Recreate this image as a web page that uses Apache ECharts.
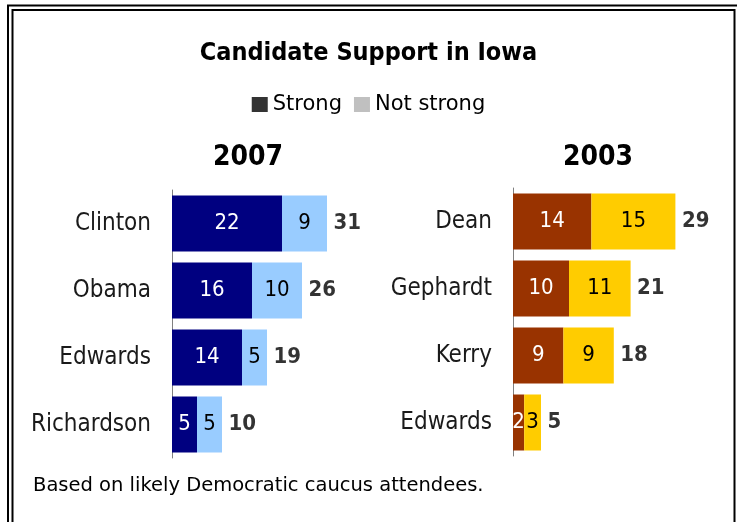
<!DOCTYPE html>
<html>
<head>
<meta charset="utf-8">
<script src="https://cdn.jsdelivr.net/npm/echarts@6/dist/echarts.min.js"></script>
<style>
html,body{margin:0;padding:0;background:#fff;}
#chart{width:737px;height:522px;}
</style>
</head>
<body>
<div id="chart"></div>
<script>
const cands2007 = ['Clinton', 'Obama', 'Edwards', 'Richardson'];
const strong2007 = [22, 16, 14, 5];
const notStrong2007 = [9, 10, 5, 5];
const total2007 = [31, 26, 19, 10];

const cands2003 = ['Dean', 'Gephardt', 'Kerry', 'Edwards'];
const strong2003 = [14, 10, 9, 2];
const notStrong2003 = [15, 11, 9, 3];
const total2003 = [29, 21, 18, 5];

const FONT = '"DejaVu Sans Condensed", "DejaVu Sans", sans-serif';
const FONT_W = '"DejaVu Sans", sans-serif';

const chart = echarts.init(document.getElementById('chart'), null, {renderer: 'canvas'});

function catAxis(idx, cats) {
  return {
    type: 'category', gridIndex: idx, data: cats, inverse: true,
    axisLine: {show: true, lineStyle: {color: '#808080', width: 1}},
    axisTick: {show: false},
    axisLabel: {fontFamily: FONT, fontSize: 24, color: '#1a1a1a', margin: 21}
  };
}
function valAxis(idx) {
  return {
    type: 'value', gridIndex: idx, min: 0, max: 40,
    show: false, splitLine: {show: false}
  };
}
function stackSeries(idx, name, data, color, labelColor) {
  return {
    type: 'bar', name: name, xAxisIndex: idx, yAxisIndex: idx, stack: 's' + idx,
    data: data, barWidth: 56,
    itemStyle: {color: color},
    label: {show: true, position: 'inside', color: labelColor, fontFamily: FONT, fontSize: 22}
  };
}
function totalSeries(idx, totals, cats) {
  return {
    type: 'scatter', xAxisIndex: idx, yAxisIndex: idx, symbolSize: 1,
    itemStyle: {color: 'rgba(0,0,0,0)'},
    data: totals.map((v, i) => [v, cats[i]]),
    label: {show: true, position: 'right', distance: 6, color: '#000', fontFamily: FONT,
      fontSize: 22, fontWeight: 'bold', formatter: p => p.value[0]}
  };
}

chart.setOption({
  animation: false,
  backgroundColor: '#fff',
  title: [
    {text: 'Candidate Support in Iowa', left: 'center', top: 36,
      textStyle: {fontFamily: FONT, fontSize: 25, fontWeight: 'bold', color: '#000'}},
    {text: '2007', left: 243, textAlign: 'center', top: 139,
      textStyle: {fontFamily: FONT, fontSize: 28, fontWeight: 'bold', color: '#000'}},
    {text: '2003', left: 593, textAlign: 'center', top: 139,
      textStyle: {fontFamily: FONT, fontSize: 28, fontWeight: 'bold', color: '#000'}}
  ],
  legend: {
    top: 89, left: 'center', selectedMode: false, itemWidth: 16, itemHeight: 15, itemGap: 12,
    icon: 'rect',
    textStyle: {fontFamily: FONT_W, fontSize: 21, color: '#000'},
    data: [
      {name: 'Strong', itemStyle: {color: '#333333'}},
      {name: 'Not strong', itemStyle: {color: '#c0c0c0'}}
    ]
  },
  grid: [
    {left: 172, top: 190, width: 200, height: 268},
    {left: 513, top: 188, width: 224, height: 268}
  ],
  xAxis: [valAxis(0), valAxis(1)],
  yAxis: [catAxis(0, cands2007), catAxis(1, cands2003)],
  series: [
    stackSeries(0, 'Strong', strong2007, '#000080', '#fff'),
    stackSeries(0, 'Not strong', notStrong2007, '#99ccff', '#000'),
    totalSeries(0, total2007, cands2007),
    stackSeries(1, 'Strong', strong2003, '#993300', '#fff'),
    stackSeries(1, 'Not strong', notStrong2003, '#ffcc00', '#000'),
    totalSeries(1, total2003, cands2003)
  ],
  graphic: [
    {type: 'rect', shape: {x: 8, y: 5.5, width: 800, height: 700},
      style: {fill: null, stroke: '#000', lineWidth: 2}, silent: true},
    {type: 'rect', shape: {x: 12.5, y: 10, width: 722, height: 700},
      style: {fill: null, stroke: '#000', lineWidth: 2}, silent: true},
    {type: 'text', left: 33, top: 476,
      style: {text: 'Based on likely Democratic caucus attendees.', fontFamily: FONT_W, fontSize: 19.5, fill: '#000'}}
  ]
});
</script>
</body>
</html>
